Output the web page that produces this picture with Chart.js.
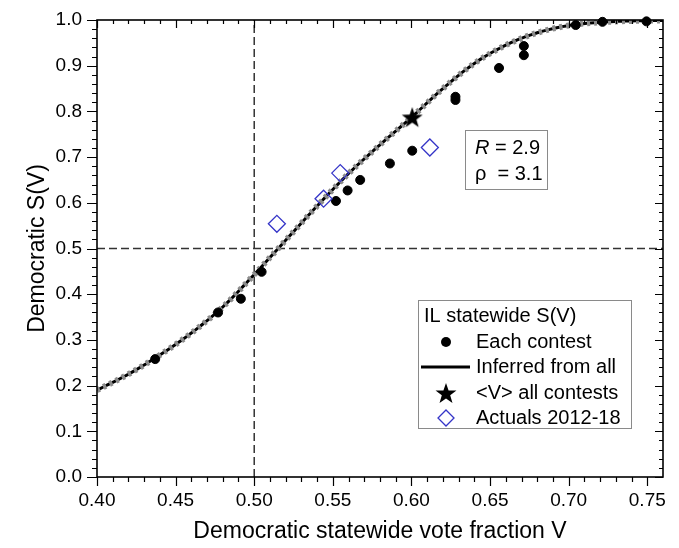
<!DOCTYPE html>
<html lang="en">
<head>
<meta charset="UTF-8">
<title>IL statewide S(V)</title>
<script src="https://cdn.jsdelivr.net/npm/chart.js"></script>
<style>
    html, body {
        margin: 0;
        padding: 0;
        background: #fff;
    }

    .wrap {
        position: relative;
        width: 679px;
        height: 548px;
    }
</style>
</head>
<body>
<div class="wrap"><canvas id="svChart"></canvas></div>

<script>
    // Each contest: statewide vote fraction V and seat fraction S
    const contestV = [0.437, 0.477, 0.4915, 0.5047, 0.552, 0.5594, 0.5674, 0.5863, 0.6005,
                      0.628, 0.628, 0.6557, 0.6715, 0.6715, 0.7045, 0.7215, 0.7495];
    const contestS = [0.258, 0.360, 0.390, 0.449, 0.604, 0.627, 0.650, 0.686, 0.714,
                      0.832, 0.825, 0.895, 0.943, 0.923, 0.989, 0.996, 0.997];

    // Actuals 2012-18
    const actualV = [0.5144, 0.5441, 0.5547, 0.6117];
    const actualS = [0.554, 0.609, 0.665, 0.721];

    // <V> all contests
    const meanV = [0.6005];
    const meanS = [0.787];

    // Inferred from all
    const curveV = [0.40, 0.42, 0.44, 0.46, 0.48, 0.50, 0.52, 0.54, 0.56, 0.58,
                    0.60, 0.62, 0.64, 0.66, 0.68, 0.70, 0.72, 0.74, 0.76];
    const curveS = [0.190, 0.225, 0.267, 0.315, 0.372, 0.443, 0.518, 0.593, 0.664, 0.727,
                    0.787, 0.850, 0.905, 0.945, 0.972, 0.988, 0.995, 0.998, 0.999];

    // dashed reference lines
    const refV = 0.5;
    const refS = 0.5;

    const xTicks = [0.40, 0.45, 0.50, 0.55, 0.60, 0.65, 0.70, 0.75];
    const yTicks = [0.0, 0.1, 0.2, 0.3, 0.4, 0.5, 0.6, 0.7, 0.8, 0.9, 1.0];

    const FONT = "'Liberation Sans', Arial, sans-serif";
    const DIAMOND_BLUE = '#3535c8';

    Chart.defaults.font.family = FONT;
    Chart.defaults.color = '#000';

    function starPath(ctx, cx, cy, R, r) {
        ctx.beginPath();
        for (let i = 0; i < 10; i++) {
            const rad = i % 2 ? r : R;
            const ang = -Math.PI / 2 + i * Math.PI / 5;
            ctx.lineTo(cx + rad * Math.cos(ang), cy + rad * Math.sin(ang));
        }
        ctx.closePath();
    }

    // filled star used as point style
    const starImg = document.createElement('canvas');
    starImg.width = 24;
    starImg.height = 24;
    (function () {
        const c = starImg.getContext('2d');
        starPath(c, 12, 12.8, 11, 4.4);
        c.fillStyle = '#000';
        c.fill();
    })();

    const pts = (xs, ys) => xs.map((v, i) => ({ x: v, y: ys[i] }));

    // axis frame with inward/outward minor and major ticks
    const framePlugin = {
        id: 'frame',
        afterDatasetsDraw(chart) {
            const { ctx, chartArea: a, scales: { x, y } } = chart;
            ctx.save();
            ctx.strokeStyle = '#000';
            ctx.lineWidth = 1.2;
            ctx.beginPath();
            for (let i = 0; i < 36; i++) {
                const px = Math.round(x.getPixelForValue(0.40 + i * 0.01)) + 0.5;
                const major = i % 5 === 0;
                ctx.moveTo(px, a.bottom);
                ctx.lineTo(px, a.bottom + (major ? 9 : 5));
                ctx.moveTo(px, a.top);
                ctx.lineTo(px, a.top + (major ? 8 : 4));
            }
            for (let i = 0; i <= 50; i++) {
                const py = Math.round(y.getPixelForValue(i * 0.02)) + 0.5;
                const major = i % 5 === 0;
                ctx.moveTo(a.left, py);
                ctx.lineTo(a.left - (major ? 10 : 5), py);
                ctx.moveTo(a.right, py);
                ctx.lineTo(a.right - (major ? 8 : 4), py);
            }
            ctx.stroke();
            ctx.lineWidth = 1.6;
            ctx.strokeRect(a.left, a.top, a.right - a.left, a.bottom - a.top);
            ctx.restore();
        }
    };

    // legend box and parameter box inside the plot
    const boxesPlugin = {
        id: 'boxes',
        afterDraw(chart) {
            const ctx = chart.ctx;
            ctx.save();

            // parameter box
            ctx.fillStyle = '#fff';
            ctx.fillRect(465.5, 130.5, 82, 59);
            ctx.strokeStyle = '#8a8a8a';
            ctx.lineWidth = 1;
            ctx.strokeRect(465.5, 130.5, 82, 59);
            ctx.fillStyle = '#000';
            ctx.textBaseline = 'middle';
            ctx.font = 'italic 20px ' + FONT;
            ctx.fillText('R', 475, 148);
            const rw = ctx.measureText('R').width;
            ctx.font = '20px ' + FONT;
            ctx.fillText(' = 2.9', 475 + rw, 148);
            ctx.fillText('\u03C1  = 3.1', 475, 174);

            // legend
            ctx.fillStyle = '#fff';
            ctx.fillRect(418.5, 300.5, 213, 128);
            ctx.strokeStyle = '#8a8a8a';
            ctx.strokeRect(418.5, 300.5, 213, 128);

            ctx.fillStyle = '#000';
            ctx.font = '20px ' + FONT;
            ctx.fillText('IL statewide S(V)', 424, 316);
            ctx.fillText('Each contest', 476, 342);
            ctx.fillText('Inferred from all', 476, 367);
            ctx.fillText('<V> all contests', 476, 393);
            ctx.fillText('Actuals 2012-18', 476, 418);

            ctx.beginPath();
            ctx.arc(446, 342, 5, 0, Math.PI * 2);
            ctx.fill();

            ctx.strokeStyle = '#000';
            ctx.lineWidth = 3;
            ctx.beginPath();
            ctx.moveTo(421, 367);
            ctx.lineTo(470, 367);
            ctx.stroke();

            starPath(ctx, 446, 394, 11, 4.4);
            ctx.fill();

            ctx.strokeStyle = DIAMOND_BLUE;
            ctx.lineWidth = 1.3;
            ctx.beginPath();
            ctx.moveTo(446, 410);
            ctx.lineTo(454, 418);
            ctx.lineTo(446, 426);
            ctx.lineTo(438, 418);
            ctx.closePath();
            ctx.stroke();

            ctx.restore();
        }
    };

    new Chart(document.getElementById('svChart'), {
        type: 'scatter',
        data: {
            datasets: [
                {
                    label: '<V> all contests',
                    data: pts(meanV, meanS),
                    pointStyle: starImg,
                    clip: false
                },
                {
                    label: 'Actuals 2012-18',
                    data: pts(actualV, actualS),
                    pointStyle: 'rectRot',
                    pointRadius: 8.5,
                    pointBackgroundColor: 'transparent',
                    pointBorderColor: DIAMOND_BLUE,
                    pointBorderWidth: 1.3,
                    clip: false
                },
                {
                    label: 'Each contest',
                    data: pts(contestV, contestS),
                    pointRadius: 4.5,
                    pointBackgroundColor: '#000',
                    pointBorderColor: '#000',
                    pointBorderWidth: 1,
                    clip: false
                },
                {
                    label: 'Inferred from all',
                    data: pts(curveV, curveS),
                    showLine: true,
                    pointRadius: 0,
                    borderColor: '#000',
                    borderWidth: 3,
                    borderDash: [4, 3],
                    borderDashOffset: 4,
                    cubicInterpolationMode: 'monotone'
                },
                {
                    label: 'band',
                    data: pts(curveV, curveS),
                    showLine: true,
                    pointRadius: 0,
                    borderColor: '#8c8c8c',
                    borderWidth: 6,
                    borderDash: [3, 4],
                    cubicInterpolationMode: 'monotone'
                },
                {
                    label: 'refH',
                    data: [{ x: 0.40, y: refS }, { x: 0.76, y: refS }],
                    showLine: true,
                    pointRadius: 0,
                    borderColor: '#333',
                    borderWidth: 1.5,
                    borderDash: [8, 4]
                },
                {
                    label: 'refV',
                    data: [{ x: refV, y: 0 }, { x: refV, y: 1 }],
                    showLine: true,
                    pointRadius: 0,
                    borderColor: '#333',
                    borderWidth: 1.5,
                    borderDash: [8, 4]
                }
            ]
        },
        options: {
            responsive: true,
            maintainAspectRatio: false,
            animation: false,
            events: [],
            layout: { padding: { top: 20, right: 16, bottom: 0, left: 0 } },
            plugins: {
                legend: { display: false },
                tooltip: { enabled: false }
            },
            scales: {
                x: {
                    type: 'linear',
                    min: 0.40,
                    max: 0.76,
                    grid: { display: false, drawTicks: false },
                    border: { display: false },
                    afterBuildTicks: s => { s.ticks = xTicks.map(v => ({ value: v })); },
                    afterFit: s => { s.height = 71; },
                    ticks: {
                        padding: 12,
                        maxRotation: 0,
                        font: { size: 19 },
                        callback: v => v.toFixed(2)
                    },
                    title: {
                        display: true,
                        text: 'Democratic statewide vote fraction V',
                        font: { size: 23 },
                        padding: { top: 0, bottom: 3 }
                    }
                },
                y: {
                    type: 'linear',
                    min: 0,
                    max: 1,
                    grid: { display: false, drawTicks: false },
                    border: { display: false },
                    afterBuildTicks: s => { s.ticks = yTicks.map(v => ({ value: v })); },
                    afterFit: s => {
                        s.width = 97;
                        s.paddingTop = 0;
                        s.paddingBottom = 0;
                    },
                    ticks: {
                        padding: 15,
                        font: { size: 19 },
                        callback: v => v.toFixed(1)
                    },
                    title: {
                        display: true,
                        text: 'Democratic S(V)',
                        font: { size: 23 },
                        padding: { top: 24, bottom: 0 }
                    }
                }
            }
        },
        plugins: [framePlugin, boxesPlugin]
    });
</script>
</body>
</html>
